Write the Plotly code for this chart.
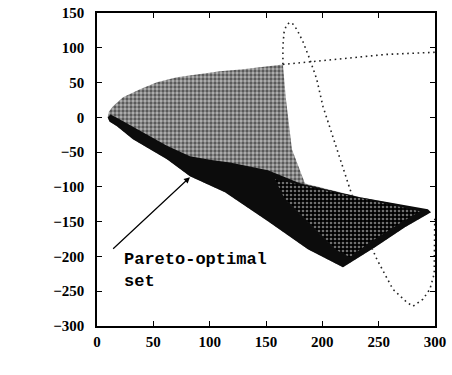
import plotly.graph_objects as go

# outline of the whole objective-space cloud
cloud_f1 = [9.5, 10.5, 14.2, 23.1, 38.2, 53.2, 71, 88.7, 109.1, 129.5, 165, 167.7, 173, 184.6,
            233.4, 293.7, 296.4, 273.3, 246.7, 218.3, 187.2, 151.7, 113.6, 82.5, 62.1, 31.9,
            17.7, 11, 9.5]
cloud_f2 = [0, 8, 15.8, 28.7, 40.2, 50.3, 57.5, 61.8, 66.1, 69, 76.1, 25.9, -46, -95,
            -115, -133.6, -136.5, -158, -186.8, -215.5, -189.7, -149.4, -107.8, -84.8, -60.3, -31.6,
            -12.9, -6, 0]

# dense band along the lower edge (Pareto-optimal side)
band_f1 = [9.5, 11, 17.7, 31.9, 62.1, 82.5, 113.6, 151.7, 187.2, 218.3, 246.7, 273.3, 296.4,
           293.7, 233.4, 180.1, 151.7, 118, 100, 82.5, 62.1, 31.9, 18, 12, 9.5]
band_f2 = [0, -6, -12.9, -31.6, -60.3, -84.8, -107.8, -149.4, -189.7, -215.5, -186.8, -158, -136.5,
           -132.2, -114.9, -94.8, -76.1, -65, -61, -56, -41, -13, -1, 4, 0]

# lighter speckled interior of the band
inner_f1 = [157.9, 206.7, 260, 286.6, 268.9, 242.2, 224.5, 211.2, 189, 166.8, 157.9]
inner_f2 = [-89.1, -106.3, -125, -135.1, -152.3, -179.6, -201.1, -189.7, -153.7, -117.8, -89.1]

# dotted boundary curves
line_f1 = [165, 198, 227, 257, 298, 300]
line_f2 = [76, 81, 86, 90.5, 93.4, 93.7]

loop_f1 = [165, 165, 166, 168, 171, 174, 177.5, 183, 189, 195, 200.5, 207, 214, 224.5,
           235, 248.4, 262.6, 275, 280.4, 289.3, 295.5, 299.3, 299.8]
loop_f2 = [76, 102, 122, 132, 136.5, 134, 126, 108, 83, 55, 16, -17, -50, -103,
           -155, -204, -247, -266, -271.6, -261.5, -247, -225, -145]

# arrow / label positions
arrow_head = (82.5, -86)
arrow_tail = (13, -191)

dot_line = dict(color="#222222", width=1.6, dash="1.6px,3.6px")

fig = go.Figure()
fig.add_trace(go.Scatter(x=line_f1, y=line_f2, mode="lines", line=dot_line, hoverinfo="skip"))
fig.add_trace(go.Scatter(x=loop_f1, y=loop_f2, mode="lines", line=dot_line, hoverinfo="skip"))
fig.add_trace(go.Scatter(
    x=cloud_f1, y=cloud_f2, mode="lines", fill="toself", line=dict(width=0),
    fillpattern=dict(shape=".", fgcolor="black", bgcolor="#b4b4b4", size=4, solidity=0.55),
    hoverinfo="skip"))
fig.add_trace(go.Scatter(
    x=band_f1, y=band_f2, mode="lines", fill="toself", line=dict(width=0),
    fillcolor="rgb(12,12,12)", hoverinfo="skip"))
fig.add_trace(go.Scatter(
    x=inner_f1, y=inner_f2, mode="lines", fill="toself", line=dict(width=0),
    fillpattern=dict(shape=".", fgcolor="#dddddd", bgcolor="black", size=4, solidity=0.35),
    hoverinfo="skip"))

tickfont = dict(family="Liberation Serif", size=15, color="black", weight="bold")
axis_common = dict(
    showline=True, linecolor="black", linewidth=1.5, mirror="ticks",
    ticks="inside", ticklen=5, tickwidth=1.2, tickcolor="black",
    showgrid=False, zeroline=False, tickfont=tickfont, dtick=50, automargin=False,
)
fig.update_xaxes(range=[0, 300], tick0=0, ticklabelstandoff=1, **axis_common)
fig.update_yaxes(range=[-300, 150], tick0=0, ticklabelstandoff=8, **axis_common)

lab_font = dict(family="Liberation Mono", size=17, color="black", weight="bold")
fig.add_annotation(x=arrow_head[0], y=arrow_head[1], ax=arrow_tail[0], ay=arrow_tail[1],
                   axref="x", ayref="y", xref="x", yref="y", text="", showarrow=True,
                   arrowhead=2, arrowsize=1, arrowwidth=1.2, arrowcolor="black")
fig.add_annotation(x=22, y=-188, xref="x", yref="y", text="Pareto-optimal<br>set",
                   showarrow=False, xanchor="left", yanchor="top", align="left", font=lab_font)
fig.add_annotation(x=-64.8, y=-103, xref="x", yref="y", text="f<sub>2</sub>",
                   showarrow=False, xanchor="center", yanchor="middle",
                   font=dict(family="Liberation Mono", size=20, color="black", weight="bold"))
fig.add_annotation(x=157, y=-350.6, xref="x", yref="y", text="f<sub>1</sub>",
                   showarrow=False, xanchor="center", yanchor="middle",
                   font=dict(family="Liberation Mono", size=20, color="black", weight="bold"))

fig.update_layout(
    width=452, height=375, autosize=False,
    margin=dict(l=97, r=17, t=13, b=49),
    paper_bgcolor="white", plot_bgcolor="white", showlegend=False,
)
fig.write_html("out.html")
